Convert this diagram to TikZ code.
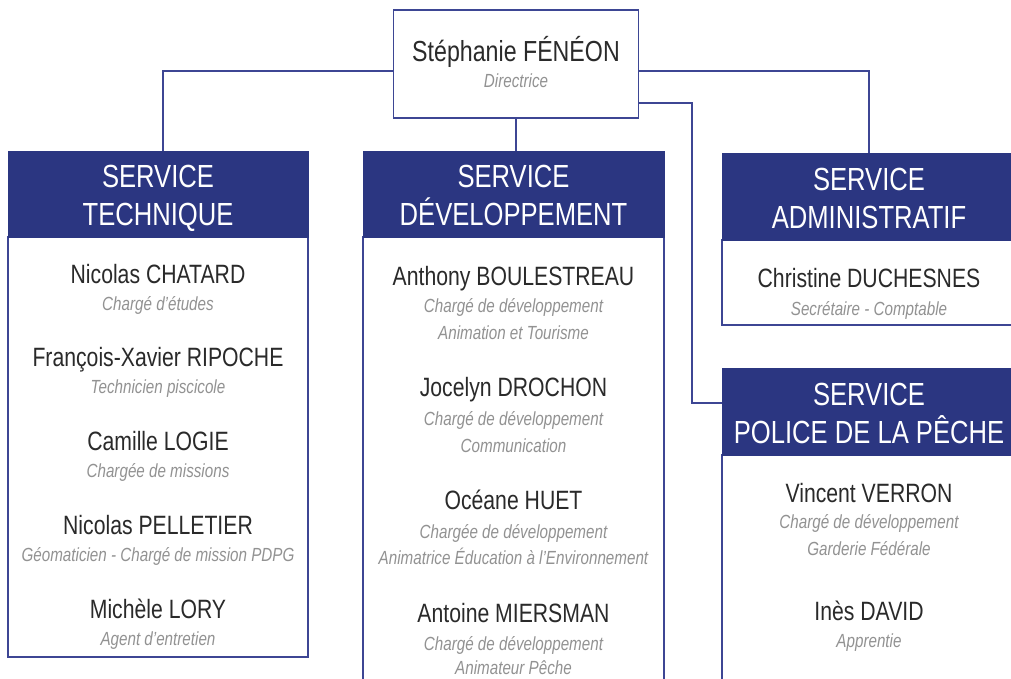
\documentclass[tikz,border=0pt]{standalone}
\usepackage{fontspec}
\setmainfont{Liberation Sans}[FakeStretch=0.80]
\definecolor{navy}{HTML}{2B3681}
\definecolor{lineblue}{HTML}{3D4694}
\definecolor{namecol}{HTML}{2A2A2A}
\definecolor{rolecol}{HTML}{929292}
\begin{document}
\begin{tikzpicture}[x=1pt,y=-1pt,
  hdr/.style={fill=navy, draw=navy, inner sep=0pt},
  body/.style={draw=lineblue, line width=1.1pt, fill=white, inner sep=0pt},
  conn/.style={draw=lineblue, line width=1.1pt},
  htxt/.style={anchor=base, text=white, font=\fontsize{32}{36}\selectfont, inner sep=0pt},
  pname/.style={anchor=base, text=namecol, font=\fontsize{26.5}{30}\selectfont, inner sep=0pt},
  prole/.style={anchor=base, text=rolecol, font=\fontsize{19}{22}\selectfont\itshape, inner sep=0pt}
]
\useasboundingbox[fill=white] (0,0) rectangle (1011,679);

% Top box
\node[body, minimum width=245pt, minimum height=108pt] (top) at (516,64) {};
\node[anchor=base, text=namecol, font=\fontsize{29}{32}\selectfont, inner sep=0pt] (topn) at (516,62) {Stéphanie FÉNÉON};
\node[prole] (topr) at (516,88) {Directrice};

% Service technique
\node[body, minimum width=300pt, minimum height=420pt] (tb) at (158,447) {};
\node[hdr, minimum width=300pt, minimum height=86pt] (th) at (158,194) {};
\node[htxt] (th1) at (158,188) {SERVICE};
\node[htxt] (th2) at (158,225) {TECHNIQUE};
\node[pname] (t1) at (158,283) {Nicolas CHATARD};
\node[prole] (t1r) at (158,310) {Chargé d'études};
\node[pname] (t2) at (158,366) {François-Xavier RIPOCHE};
\node[prole] (t2r) at (158,393) {Technicien piscicole};
\node[pname] (t3) at (158,450) {Camille LOGIE};
\node[prole] (t3r) at (158,477) {Chargée de missions};
\node[pname] (t4) at (158,534) {Nicolas PELLETIER};
\node[prole] (t4r) at (158,561) {Géomaticien - Chargé de mission PDPG};
\node[pname] (t5) at (158,618) {Michèle LORY};
\node[prole] (t5r) at (158,645) {Agent d'entretien};

% Service developpement
\node[body, minimum width=301pt, minimum height=480pt] (db) at (513.5,477) {};
\node[hdr, minimum width=301pt, minimum height=86pt] (dh) at (513.5,194) {};
\node[htxt] (dh1) at (513.5,188) {SERVICE};
\node[htxt] (dh2) at (513.5,225) {DÉVELOPPEMENT};
\node[pname] (d1) at (513.5,285) {Anthony BOULESTREAU};
\node[prole] (d1r) at (513.5,312) {Chargé de développement};
\node[prole] (d1s) at (513.5,339) {Animation et Tourisme};
\node[pname] (d2) at (513.5,396) {Jocelyn DROCHON};
\node[prole] (d2r) at (513.5,425) {Chargé de développement};
\node[prole] (d2s) at (513.5,452) {Communication};
\node[pname] (d3) at (513.5,509) {Océane HUET};
\node[prole] (d3r) at (513.5,538) {Chargée de développement};
\node[prole] (d3s) at (513.5,564) {Animatrice Éducation à l'Environnement};
\node[pname] (d4) at (513.5,622) {Antoine MIERSMAN};
\node[prole] (d4r) at (513.5,650) {Chargé de développement};
\node[prole] (d4s) at (513.5,674) {Animateur Pêche};

% Service administratif
\node[body, minimum width=294pt, minimum height=85pt] (ab) at (869,282.5) {};
\node[hdr, minimum width=294pt, minimum height=87pt] (ah) at (869,196.5) {};
\node[htxt] (ah1) at (869,190) {SERVICE};
\node[htxt] (ah2) at (869,228) {ADMINISTRATIF};
\node[pname] (a1) at (869,287) {Christine DUCHESNES};
\node[prole] (a1r) at (869,315) {Secrétaire - Comptable};

% Service police de la peche
\node[body, minimum width=294pt, minimum height=260pt] (pb) at (869,585) {};
\node[hdr, minimum width=294pt, minimum height=87pt] (ph) at (869,411.5) {};
\node[htxt] (ph1) at (869,405) {SERVICE};
\node[htxt] (ph2) at (869,443) {POLICE DE LA PÊCHE};
\node[pname] (p1) at (869,502) {Vincent VERRON};
\node[prole] (p1r) at (869,528) {Chargé de développement};
\node[prole] (p1s) at (869,555) {Garderie Fédérale};
\node[pname] (p2) at (869,620) {Inès DAVID};
\node[prole] (p2r) at (869,647) {Apprentie};

% Connectors
\coordinate (pk) at (692,403);
\draw[conn] ([yshift=-7pt]top.west) -| ([xshift=5pt]th.north);
\draw[conn] ([yshift=-7pt]top.east) -| (ah.north);
\draw[conn] (top.south) -- (top.south |- dh.north);
\draw[conn] ([yshift=-39pt]top.east) -| (pk) -- (pk -| ph.west);
\end{tikzpicture}
\end{document}
